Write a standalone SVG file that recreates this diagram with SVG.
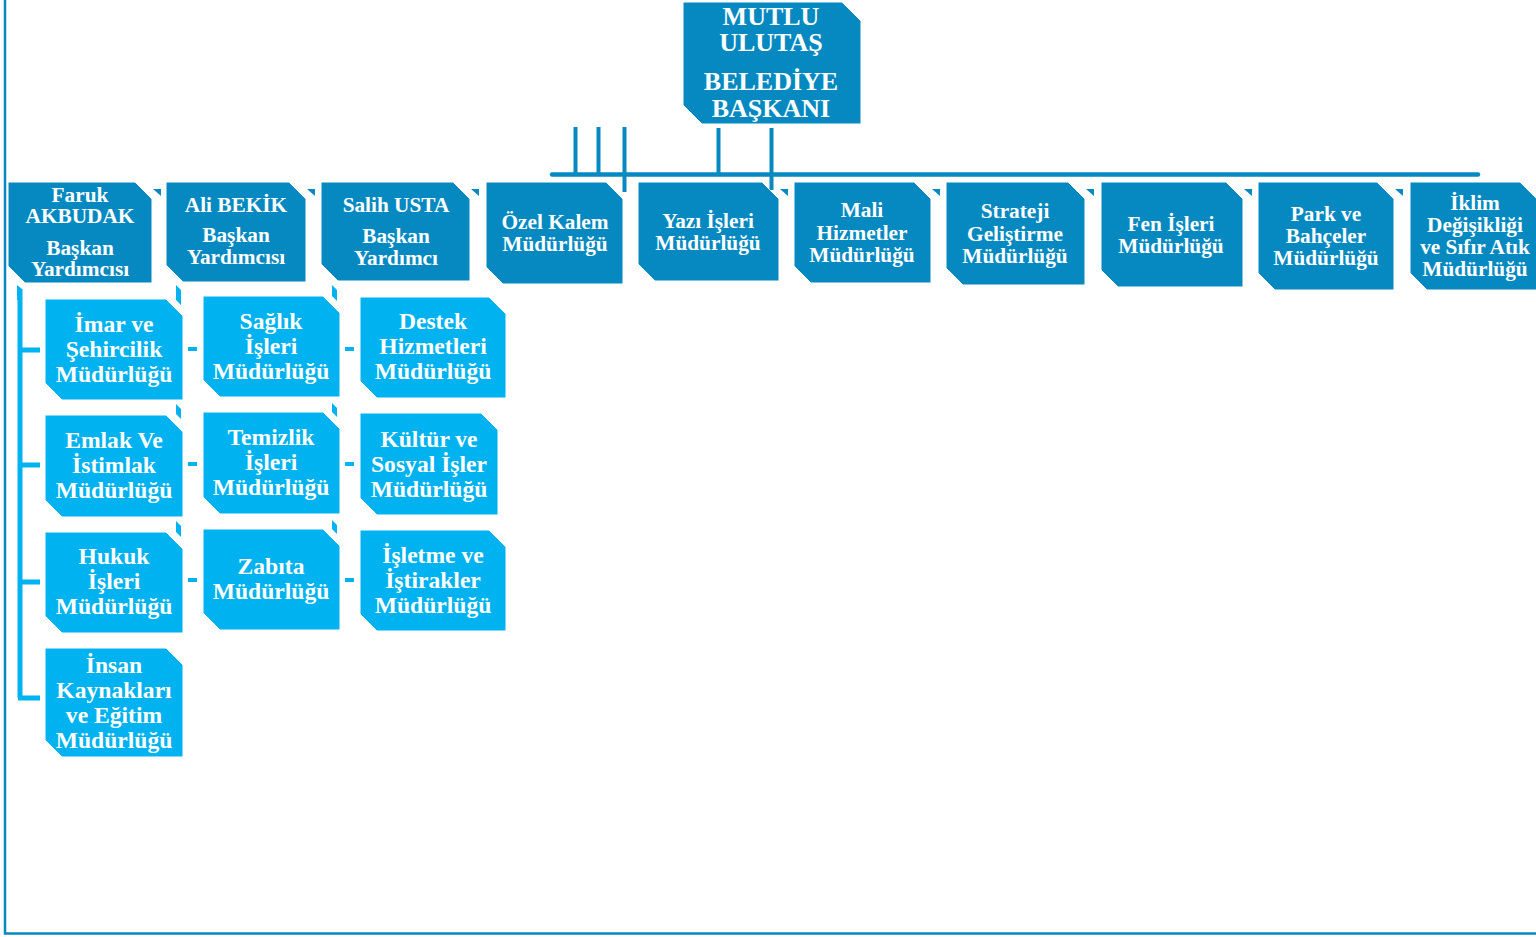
<svg xmlns="http://www.w3.org/2000/svg" width="1536" height="937" viewBox="0 0 1536 937">
<style>
.dk{fill:#0689C1;stroke:#fff;stroke-width:1}
.lt{fill:#00B2F0;stroke:#fff;stroke-width:1}
.t{font-family:"Liberation Serif","Times New Roman",serif;font-weight:bold;fill:#fff;text-anchor:middle}
.t26{font-size:26px}
.t21{font-size:21.3px}
.t23{font-size:23.6px}
.cd{stroke:#0689C1;fill:none}
.cl{stroke:#00B2F0;fill:none}
.tabd{fill:#0689C1}
.tabl{fill:#00B2F0}
</style>
<rect x="0" y="0" width="1536" height="937" fill="#fff"/>
<g id="frame"><path class="cd" d="M5 0 V933.5 H1536" stroke-width="2.5"/></g>
<g id="connectors">
<path class="cd" d="M552 174.5 H1478" stroke-width="4.5" stroke-linecap="round"/>
<path class="cd" stroke-width="4" d="M575.5 127 V174 M598.5 127 V174 M624.5 127 V192 M718.5 128 V174 M771.5 128 V190"/>
<polygon class="tabd" points="153,189 161,189 161,196"/>
<polygon class="tabd" points="307,189 315,189 315,196"/>
<polygon class="tabd" points="471,189 479,189 479,196"/>
<polygon class="tabd" points="780,189 788,189 788,196"/>
<polygon class="tabd" points="932,189 940,189 940,196"/>
<polygon class="tabd" points="1086,189 1094,189 1094,196"/>
<polygon class="tabd" points="1244,189 1252,189 1252,196"/>
<polygon class="tabd" points="1395,189 1403,189 1403,196"/>
<path class="cl" stroke-width="5" d="M20 289 V698 M18 350 H40 M18 465 H40 M18 582 H40 M18 698 H40"/>
<polygon class="tabl" points="17,285 22,289 22,300 17,300"/>
<path class="cl" stroke-width="4" d="M188 349 H197 M345 349 H354 M188 464 H197 M345 464 H354 M188 580 H197 M345 580 H354"/>
<polygon class="tabl" points="176,285 181,290 181,305 176,300"/>
<polygon class="tabl" points="176,404 181,409 181,419 176,414"/>
<polygon class="tabl" points="176,521 181,526 181,537 176,532"/>
<polygon class="tabl" points="332,285 337,290 337,301 332,296"/>
<polygon class="tabl" points="332,403 337,408 337,417 332,412"/>
<polygon class="tabl" points="332,520 337,525 337,534 332,529"/>
</g>
<g id="n-baskan"><path class="dk" d="M683 2 H842 L861 21 V124 H702 L683 105 Z"/>
<text class="t t26"><tspan x="771" y="25">MUTLU</tspan><tspan x="771" y="51">ULUTAŞ</tspan><tspan x="771" y="90">BELEDİYE</tspan><tspan x="771" y="117">BAŞKANI</tspan></text></g>
<g id="n-faruk"><path class="dk" d="M8 182 H135 L152 199 V283 H25 L8 266 Z"/>
<text class="t t21"><tspan x="80" y="202">Faruk</tspan><tspan x="80" y="223">AKBUDAK</tspan><tspan x="80" y="255">Başkan</tspan><tspan x="80" y="276">Yardımcısı</tspan></text></g>
<g id="n-ali"><path class="dk" d="M166 182 H289 L306 199 V282 H183 L166 265 Z"/>
<text class="t t21"><tspan x="236" y="212">Ali BEKİK</tspan><tspan x="236" y="242">Başkan</tspan><tspan x="236" y="264">Yardımcısı</tspan></text></g>
<g id="n-salih"><path class="dk" d="M321 182 H453 L470 199 V281 H338 L321 264 Z"/>
<text class="t t21"><tspan x="396" y="212">Salih USTA</tspan><tspan x="396" y="243">Başkan</tspan><tspan x="396" y="265">Yardımcı</tspan></text></g>
<g id="n-ozel"><path class="dk" d="M486 182 H606 L623 199 V284 H503 L486 267 Z"/>
<text class="t t21"><tspan x="555" y="229">Özel Kalem</tspan><tspan x="555" y="251">Müdürlüğü</tspan></text></g>
<g id="n-yazi"><path class="dk" d="M638 182 H762 L779 199 V281 H655 L638 264 Z"/>
<text class="t t21"><tspan x="708" y="228">Yazı İşleri</tspan><tspan x="708" y="250">Müdürlüğü</tspan></text></g>
<g id="n-mali"><path class="dk" d="M794 182 H914 L931 199 V283 H811 L794 266 Z"/>
<text class="t t21"><tspan x="862" y="217">Mali</tspan><tspan x="862" y="240">Hizmetler</tspan><tspan x="862" y="262">Müdürlüğü</tspan></text></g>
<g id="n-strateji"><path class="dk" d="M946 182 H1068 L1085 199 V285 H963 L946 268 Z"/>
<text class="t t21"><tspan x="1015" y="218">Strateji</tspan><tspan x="1015" y="241">Geliştirme</tspan><tspan x="1015" y="263">Müdürlüğü</tspan></text></g>
<g id="n-fen"><path class="dk" d="M1101 182 H1226 L1243 199 V287 H1118 L1101 270 Z"/>
<text class="t t21"><tspan x="1171" y="231">Fen İşleri</tspan><tspan x="1171" y="253">Müdürlüğü</tspan></text></g>
<g id="n-park"><path class="dk" d="M1258 182 H1377 L1394 199 V290 H1275 L1258 273 Z"/>
<text class="t t21"><tspan x="1326" y="221">Park ve</tspan><tspan x="1326" y="243">Bahçeler</tspan><tspan x="1326" y="265">Müdürlüğü</tspan></text></g>
<g id="n-iklim"><path class="dk" d="M1410 182 H1520 L1537 199 V290 H1427 L1410 273 Z"/>
<text class="t t21"><tspan x="1475" y="210">İklim</tspan><tspan x="1475" y="232">Değişikliği</tspan><tspan x="1475" y="254">ve Sıfır Atık</tspan><tspan x="1475" y="276">Müdürlüğü</tspan></text></g>
<g id="n-imar"><path class="lt" d="M45 299 H166 L183 316 V400 H62 L45 383 Z"/>
<text class="t t23"><tspan x="114" y="332">İmar ve</tspan><tspan x="114" y="357">Şehircilik</tspan><tspan x="114" y="382">Müdürlüğü</tspan></text></g>
<g id="n-emlak"><path class="lt" d="M45 415 H166 L183 432 V517 H62 L45 500 Z"/>
<text class="t t23"><tspan x="114" y="448">Emlak Ve</tspan><tspan x="114" y="473">İstimlak</tspan><tspan x="114" y="498">Müdürlüğü</tspan></text></g>
<g id="n-hukuk"><path class="lt" d="M45 532 H166 L183 549 V633 H62 L45 616 Z"/>
<text class="t t23"><tspan x="114" y="564">Hukuk</tspan><tspan x="114" y="589">İşleri</tspan><tspan x="114" y="614">Müdürlüğü</tspan></text></g>
<g id="n-insan"><path class="lt" d="M45 648 H166 L183 665 V757 H62 L45 740 Z"/>
<text class="t t23"><tspan x="114" y="673">İnsan</tspan><tspan x="114" y="698">Kaynakları</tspan><tspan x="114" y="723">ve Eğitim</tspan><tspan x="114" y="748">Müdürlüğü</tspan></text></g>
<g id="n-saglik"><path class="lt" d="M203 296 H323 L340 313 V397 H220 L203 380 Z"/>
<text class="t t23"><tspan x="271" y="329">Sağlık</tspan><tspan x="271" y="354">İşleri</tspan><tspan x="271" y="379">Müdürlüğü</tspan></text></g>
<g id="n-temizlik"><path class="lt" d="M203 412 H323 L340 429 V514 H220 L203 497 Z"/>
<text class="t t23"><tspan x="271" y="445">Temizlik</tspan><tspan x="271" y="470">İşleri</tspan><tspan x="271" y="495">Müdürlüğü</tspan></text></g>
<g id="n-zabita"><path class="lt" d="M203 529 H323 L340 546 V630 H220 L203 613 Z"/>
<text class="t t23"><tspan x="271" y="574">Zabıta</tspan><tspan x="271" y="599">Müdürlüğü</tspan></text></g>
<g id="n-destek"><path class="lt" d="M360 297 H489 L506 314 V398 H377 L360 381 Z"/>
<text class="t t23"><tspan x="433" y="329">Destek</tspan><tspan x="433" y="354">Hizmetleri</tspan><tspan x="433" y="379">Müdürlüğü</tspan></text></g>
<g id="n-kultur"><path class="lt" d="M360 413 H481 L498 430 V515 H377 L360 498 Z"/>
<text class="t t23"><tspan x="429" y="447">Kültür ve</tspan><tspan x="429" y="472">Sosyal İşler</tspan><tspan x="429" y="497">Müdürlüğü</tspan></text></g>
<g id="n-isletme"><path class="lt" d="M360 530 H489 L506 547 V631 H377 L360 614 Z"/>
<text class="t t23"><tspan x="433" y="563">İşletme ve</tspan><tspan x="433" y="588">İştirakler</tspan><tspan x="433" y="613">Müdürlüğü</tspan></text></g>
</svg>
